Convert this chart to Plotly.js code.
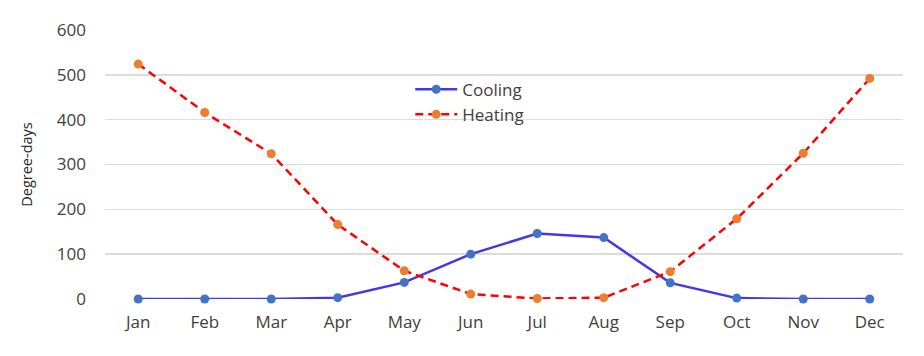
<!DOCTYPE html>
<html><head><meta charset="utf-8">
<script src="https://cdn.plot.ly/plotly-3.0.1.min.js"></script>
<style>body{margin:0;background:#fff}#c{width:924px;height:356px}</style>
</head><body><div id="c"></div>
<script>
const months = ["Jan","Feb","Mar","Apr","May","Jun","Jul","Aug","Sep","Oct","Nov","Dec"];
const cooling = [0, 0, 0, 3, 37, 100, 146, 137, 36, 2, 0, 0];
const heating = [524, 416, 324, 166, 63, 11, 1, 3, 61, 179, 325, 492];
const yTicks = [0, 100, 200, 300, 400, 500, 600];
const yTitle = "Degree-days";

const font = {family: "Open Sans, Segoe UI, sans-serif", size: 17, color: "#404040"};
const traces = [
  {x: months, y: cooling, name: "Cooling", type: "scatter", mode: "lines+markers",
   line: {color: "#4338E8", width: 2.5}, marker: {color: "#4472C4", size: 9}, cliponaxis: false},
  {x: months, y: heating, name: "Heating", type: "scatter", mode: "lines+markers",
   line: {color: "#FF0000", width: 2.5, dash: "8px,5px"}, marker: {color: "#ED7D31", size: 9}, cliponaxis: false}
];
const layout = {
  width: 924, height: 356,
  margin: {l: 105, r: 21, t: 30, b: 57},
  paper_bgcolor: "#fff", plot_bgcolor: "#fff",
  font: font,
  showlegend: true,
  legend: {x: 0.3825, y: 0.845, xanchor: "left", yanchor: "top", bgcolor: "rgba(0,0,0,0)",
           font: {family: font.family, size: 17, color: "#404040"}, itemwidth: 42},
  xaxis: {type: "category", range: [-0.5, 11.5], showgrid: false, zeroline: false,
          showline: false, ticks: "", ticklabelstandoff: 11, tickfont: font},
  yaxis: {range: [0, 600], tickvals: yTicks, showgrid: true, gridcolor: "#DCDCDC", gridwidth: 1.5,
          zeroline: false, showline: false, ticks: "", ticklabelstandoff: 18, tickfont: font,
          title: {text: yTitle, font: {family: font.family, size: 14.5, color: "#262626"}, standoff: 20}},
  shapes: [{type: "rect", xref: "paper", yref: "paper", x0: 0.326, x1: 0.585, y0: 0.66, y1: 0.8,
            fillcolor: "#fff", line: {width: 0}, layer: "between"}]
};
Plotly.newPlot("c", traces, layout, {displayModeBar: false, staticPlot: true});
</script></body></html>
